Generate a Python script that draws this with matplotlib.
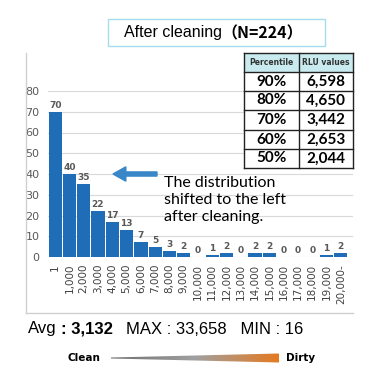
import numpy as np
import matplotlib.pyplot as plt
from matplotlib.patches import Rectangle, Polygon, FancyArrow
from matplotlib.colors import LinearSegmentedColormap

# Données
categories = ["1", "1,000", "2,000", "3,000", "4,000", "5,000", "6,000", "7,000",
              "8,000", "9,000", "10,000", "11,000", "12,000", "13,000", "14,000",
              "15,000", "16,000", "17,000", "18,000", "19,000", "20,000-"]
counts = [70, 40, 35, 22, 17, 13, 7, 5, 3, 2, 0, 1, 2, 0, 2, 2, 0, 0, 0, 1, 2]
percentiles = ["90%", "80%", "70%", "60%", "50%"]
rlu_values = ["6,598", "4,650", "3,442", "2,653", "2,044"]

W, H = 367, 378
fig = plt.figure(figsize=(W / 100, H / 100), dpi=100)
plt.rcParams['font.family'] = ['DejaVu Sans']


def fx(px):
    return px / W


def fy(py):
    return 1 - py / H


# cadre gris du graphique
fig.add_artist(plt.Line2D([fx(26), fx(26)], [fy(53), fy(313)], color='#d0d0d0', lw=1))
fig.add_artist(plt.Line2D([fx(26), fx(353)], [fy(313), fy(313)], color='#d0d0d0', lw=1))

# histogramme
ax = fig.add_axes([fx(48), fy(257), fx(300), (257 - 91) / H])
x = np.arange(len(counts))
ax.bar(x, counts, width=0.93, color='#1f6db6', zorder=2)
ax.set_xlim(-0.5, len(counts) - 0.5)
ax.set_ylim(0, 80)
ax.set_yticks(range(0, 90, 10))
ax.tick_params(axis='y', length=0, labelsize=8, labelcolor='#595959', pad=6)
ax.set_xticks(x)
ax.set_xticklabels(categories, rotation=90, fontsize=7.5, color='#404040')
ax.tick_params(axis='x', length=0, pad=5)
for s in ax.spines.values():
    s.set_visible(False)
ax.grid(axis='y', color='#d9d9d9', lw=0.8, zorder=0)
ax.set_axisbelow(True)
for xi, c in zip(x, counts):
    ax.text(xi, c + 1, str(c), ha='center', va='bottom', fontsize=6.5,
            fontweight='bold', color='#595959', clip_on=False)
# prolonger les lignes de grille sous le tableau
for v in range(10, 90, 10):
    ax.plot([len(counts) - 0.5, len(counts) - 0.2], [v, v], color='#d9d9d9', lw=0.8,
            clip_on=False, zorder=0)

# flèche + texte
fig.add_artist(FancyArrow(fx(157), fy(174), fx(113) - fx(157), 0, width=0.011,
                          head_width=0.038, head_length=0.035,
                          length_includes_head=True, color='#3a87c8',
                          transform=fig.transFigure))
fig.text(fx(164), fy(200), "The distribution\nshifted to the left\nafter cleaning.",
         fontsize=11.5, va='center', ha='left', linespacing=1.25, color='black',
         family=['Lato', 'DejaVu Sans'])

# titre
fig.add_artist(Rectangle((fx(108), fy(46)), fx(217), (46 - 19) / H,
                         transform=fig.transFigure, fill=False,
                         edgecolor='#a6dced', lw=1))
fig.text(fx(124), fy(33), "After cleaning", ha='left', va='center',
         fontsize=11.5, family=['Liberation Sans'])
fig.text(fx(221), fy(33), "（N=224）", ha='left', va='center', fontsize=11.5,
         fontweight='bold', family=['Noto Sans CJK JP', 'DejaVu Sans'])

# tableau
tx0, tx1, tx2 = 244, 299, 353
ty = [53, 72, 91, 110, 130, 149, 168]
fig.add_artist(Rectangle((fx(tx0), fy(ty[1])), fx(tx2 - tx0), (ty[1] - ty[0]) / H,
                         transform=fig.transFigure, facecolor='#c9ebef',
                         edgecolor='none'))
fig.add_artist(Rectangle((fx(tx0), fy(ty[-1])), fx(tx2 - tx0), (ty[-1] - ty[1]) / H,
                         transform=fig.transFigure, facecolor='white',
                         edgecolor='none'))
for yy in ty:
    fig.add_artist(plt.Line2D([fx(tx0), fx(tx2)], [fy(yy), fy(yy)], color='#222222', lw=1))
for xx in (tx0, tx1, tx2):
    fig.add_artist(plt.Line2D([fx(xx), fx(xx)], [fy(ty[0]), fy(ty[-1])], color='#222222', lw=1))
fig.text(fx((tx0 + tx1) / 2), fy((ty[0] + ty[1]) / 2), "Percentile", ha='center',
         va='center', fontsize=5.5, fontweight='bold', color='#333333')
fig.text(fx((tx1 + tx2) / 2), fy((ty[0] + ty[1]) / 2), "RLU values", ha='center',
         va='center', fontsize=5.5, fontweight='bold', color='#333333')
for i, (p, r) in enumerate(zip(percentiles, rlu_values)):
    yc = fy((ty[i + 1] + ty[i + 2]) / 2)
    fig.text(fx((tx0 + tx1) / 2), yc, p, ha='center', va='center', fontsize=11,
             fontweight='bold', family=['Lato', 'DejaVu Sans'])
    fig.text(fx((tx1 + tx2) / 2), yc, r, ha='center', va='center', fontsize=11,
             fontweight='bold', family=['Lato', 'DejaVu Sans'])

# statistiques
stat_font = ['Liberation Sans', 'DejaVu Sans']
fig.text(fx(28), fy(329), "Avg", fontsize=12, va='center', ha='left', family=stat_font)
fig.text(fx(61), fy(329), ": 3,132", fontsize=12, va='center', ha='left',
         fontweight='bold', family=stat_font)
fig.text(fx(126), fy(329), "MAX : 33,658   MIN : 16", fontsize=12, va='center',
         ha='left', family=stat_font)

# Clean -> Dirty
fig.text(fx(68), fy(358), "Clean", fontsize=7.5, fontweight='bold', va='center', ha='left')
fig.text(fx(286), fy(358), "Dirty", fontsize=7.5, fontweight='bold', va='center', ha='left')
gax = fig.add_axes([fx(111), fy(363), fx(168), 10 / H])
cmap = LinearSegmentedColormap.from_list('cd', ['#707070', '#a0a0a0', '#e57a20'])
grad = np.linspace(0, 1, 256).reshape(1, -1)
im = gax.imshow(grad, aspect='auto', cmap=cmap, extent=[0, 1, 0, 1])
tri = Polygon([[0, 0.45], [1, 0.05], [1, 0.95], [0, 0.55]], closed=True,
              transform=gax.transData, facecolor='none', edgecolor='none')
gax.add_patch(tri)
im.set_clip_path(tri)
gax.set_xlim(0, 1)
gax.set_ylim(0, 1)
gax.axis('off')

fig.savefig('out.png', dpi=100)
